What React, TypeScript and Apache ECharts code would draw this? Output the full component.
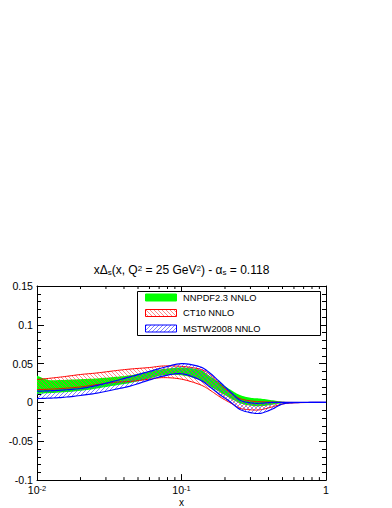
import React, { useEffect, useRef } from 'react';
import * as echarts from 'echarts';

// x grid (log scale)
const xGrid = [0.01, 0.012, 0.015, 0.02, 0.026, 0.035, 0.044, 0.06, 0.075, 0.1, 0.134, 0.157, 0.185, 0.22, 0.254, 0.3, 0.35, 0.42, 0.5, 0.6, 0.8, 1.0];

// NNPDF2.3 NNLO band
const nnpdfHi = [0.0347, 0.029, 0.029, 0.030, 0.031, 0.033, 0.035, 0.040, 0.043, 0.045, 0.042, 0.034, 0.025, 0.016, 0.0095, 0.006, 0.005, 0.003, 0.001, 0.0002, 0, 0];
const nnpdfLo = [0.011, 0.012, 0.013, 0.015, 0.018, 0.022, 0.025, 0.031, 0.035, 0.035, 0.029, 0.021, 0.013, 0.005, -0.001, -0.004, -0.005, -0.003, -0.001, -0.0002, 0, 0];

// CT10 NNLO band
const ct10Hi = [0.0296, 0.031, 0.033, 0.036, 0.038, 0.041, 0.043, 0.045, 0.047, 0.0465, 0.043, 0.036, 0.023, 0.012, 0.005, 0.002, 0.001, 0.0005, 0.0002, 0, 0, 0];
const ct10Lo = [0.0165, 0.017, 0.018, 0.020, 0.023, 0.026, 0.027, 0.030, 0.032, 0.030, 0.023, 0.016, 0.007, -0.001, -0.0075, -0.0095, -0.0095, -0.006, -0.002, -0.0005, 0, 0];

// MSTW2008 NNLO band
const mstwHi = [0.0145, 0.015, 0.016, 0.018, 0.022, 0.028, 0.033, 0.040, 0.045, 0.050, 0.046, 0.038, 0.026, 0.013, 0.003, -0.0005, -0.001, 0, 0, 0, 0, 0];
const mstwLo = [0.005, 0.0055, 0.0065, 0.009, 0.012, 0.017, 0.021, 0.029, 0.034, 0.037, 0.029, 0.020, 0.010, 0.000, -0.009, -0.013, -0.014, -0.009, -0.002, -0.0003, 0, 0];

const legendNames = ['NNPDF2.3 NNLO', 'CT10 NNLO', 'MSTW2008 NNLO'];
const xMinorTicks = [0.02, 0.03, 0.04, 0.05, 0.06, 0.07, 0.08, 0.09, 0.2, 0.3, 0.4, 0.5, 0.6, 0.7, 0.8, 0.9];
const xTickLabels: Record<string, string> = { '-2': '10{sup|-2}', '-1': '10{sup|-1}', '0': '1' };
const yTickLabels: Record<string, string> = { '-0.1': '-0.1', '-0.05': '-0.05', '0': '0', '0.05': '0.05', '0.1': '0.1', '0.15': '0.15' };

const Y_MIN = -0.1;
const Y_MAX = 0.15;
const FONT = 'Liberation Sans, Arial, Helvetica, sans-serif';

function hatch(color: string, dir: 'back' | 'fwd') {
  const s = 4;
  const c = document.createElement('canvas');
  c.width = s;
  c.height = s;
  const ctx = c.getContext('2d')!;
  ctx.fillStyle = color;
  for (let i = 0; i < s; i++) ctx.fillRect(i, dir === 'back' ? i : s - 1 - i, 1, 1);
  return c;
}

// Catmull-Rom sampling of pixel points (rendering only)
function smoothPts(p: number[][], steps = 8) {
  const out: number[][] = [];
  for (let i = 0; i < p.length - 1; i++) {
    const p0 = p[Math.max(0, i - 1)], p1 = p[i], p2 = p[i + 1], p3 = p[Math.min(p.length - 1, i + 2)];
    for (let s = 0; s < steps; s++) {
      const t = s / steps, t2 = t * t, t3 = t2 * t;
      const f = (a: number, b: number, c: number, d: number) =>
        0.5 * (2 * b + (-a + c) * t + (2 * a - 5 * b + 4 * c - d) * t2 + (-a + 3 * b - 3 * c + d) * t3);
      out.push([f(p0[0], p1[0], p2[0], p3[0]), f(p0[1], p1[1], p2[1], p3[1])]);
    }
  }
  out.push(p[p.length - 1]);
  return out;
}

export default function App() {
  const ref = useRef<HTMLDivElement>(null);
  useEffect(() => {
    document.body.style.margin = '0';
    const chart = echarts.init(ref.current!, undefined, { renderer: 'svg' });
    const redPat = { image: hatch('rgba(255,60,60,0.6)', 'back'), repeat: 'repeat' };
    const bluePat = { image: hatch('rgba(60,60,255,0.65)', 'fwd'), repeat: 'repeat' };

    const band = (name: string, lo: number[], hi: number[], fill: any, edge: string | null, lw: number, z: number) => ({
      name,
      type: 'custom',
      silent: true,
      clip: true,
      z,
      data: xGrid.map((x, i) => [x, lo[i], hi[i]]),
      encode: { x: 0, y: [1, 2] },
      renderItem: (params: any, api: any) => {
        if (params.dataIndex !== 0) return null;
        const up = smoothPts(xGrid.map((x, i) => api.coord([x, hi[i]])));
        const dn = smoothPts(xGrid.map((x, i) => api.coord([x, lo[i]])));
        const children: any[] = [
          { type: 'polygon', shape: { points: up.concat(dn.slice().reverse()) }, style: { fill, stroke: 'none' } },
        ];
        if (edge) {
          children.push({ type: 'polyline', shape: { points: up }, style: { stroke: edge, lineWidth: lw, fill: 'none' } });
          children.push({ type: 'polyline', shape: { points: dn }, style: { stroke: edge, lineWidth: lw, fill: 'none' } });
        }
        return { type: 'group', children };
      },
    });

    const tickSeries = {
      type: 'custom',
      silent: true,
      data: xMinorTicks.map((v) => [v, 0]),
      encode: { x: 0, y: 1 },
      z: 5,
      renderItem: (params: any, api: any) => {
        const x = api.value(0);
        const b = api.coord([x, Y_MIN]);
        const t = api.coord([x, Y_MAX]);
        return {
          type: 'group',
          children: [
            { type: 'line', shape: { x1: b[0], y1: b[1], x2: b[0], y2: b[1] - 3 }, style: { stroke: '#000', lineWidth: 1 } },
            { type: 'line', shape: { x1: t[0], y1: t[1], x2: t[0], y2: t[1] + 3 }, style: { stroke: '#000', lineWidth: 1 } },
          ],
        };
      },
    };

    const supRich = {
      sup: { fontSize: 7.5, fontFamily: FONT, color: '#000', verticalAlign: 'top', lineHeight: 8, padding: [0, 0, 4, 0] },
    };

    const yAxisBase = {
      type: 'value',
      min: Y_MIN,
      max: Y_MAX,
      interval: 0.05,
      axisLine: { show: true, lineStyle: { color: '#000', width: 1 } },
      axisTick: { show: true, inside: true, length: 7, lineStyle: { color: '#000' } },
      minorTick: { show: true, splitNumber: 5, length: 4, lineStyle: { color: '#000' } },
      splitLine: { show: false },
      minorSplitLine: { show: false },
    };
    const xAxisBase = {
      type: 'log',
      logBase: 10,
      min: 0.01,
      max: 1,
      axisLine: { show: true, onZero: false, lineStyle: { color: '#000', width: 1 } },
      axisTick: { show: true, inside: true, length: 6, lineStyle: { color: '#000' } },
      splitLine: { show: false },
    };

    const legendX = 137, legendY = 291, rowH = 15.5;
    const legendFills: any[] = ['#00ff00', redPat, bluePat];
    const legendStroke = ['#00ff00', '#ff0000', '#0000ff'];
    const legendChildren: any[] = [
      { type: 'rect', z: 20, shape: { x: legendX + 0.5, y: legendY + 0.5, width: 183, height: 44 }, style: { fill: '#fff', stroke: '#000', lineWidth: 1 } },
    ];
    legendNames.forEach((n, i) => {
      const cy = legendY + 6.5 + i * rowH;
      legendChildren.push({
        type: 'rect',
        z: 21,
        shape: { x: legendX + 8.5, y: cy - 3.5, width: 31, height: 7 },
        style: { fill: legendFills[i], stroke: legendStroke[i], lineWidth: 1 },
      });
      legendChildren.push({
        type: 'text',
        z: 21,
        x: legendX + 46,
        y: cy,
        style: { text: n, font: `9.3px ${FONT}`, fill: '#000', verticalAlign: 'middle', align: 'left' },
      });
    });

    chart.setOption({
      animation: false,
      backgroundColor: '#fff',
      grid: { left: 37, right: 66, top: 286, bottom: 25, containLabel: false },
      xAxis: [
        {
          ...xAxisBase,
          position: 'bottom',
          name: 'x',
          nameLocation: 'middle',
          nameGap: 5,
          nameTextStyle: { fontFamily: FONT, fontSize: 10, color: '#000' },
          axisLabel: {
            show: true,
            margin: 4,
            fontFamily: FONT,
            fontSize: 10.6,
            color: '#000',
            formatter: (v: number) => xTickLabels[String(Math.round(Math.log10(v)))] ?? '',
            rich: supRich,
          },
        },
        { ...xAxisBase, position: 'top', axisLabel: { show: false } },
      ],
      yAxis: [
        {
          ...yAxisBase,
          position: 'left',
          axisLabel: {
            show: true,
            margin: 4,
            fontFamily: FONT,
            fontSize: 10.6,
            color: '#000',
            formatter: (v: number) => yTickLabels[String(+v.toFixed(2))] ?? String(+v.toFixed(2)),
          },
        },
        { ...yAxisBase, position: 'right', axisLabel: { show: false } },
      ],
      series: [
        band('NNPDF2.3 NNLO', nnpdfLo, nnpdfHi, '#00ff00', null, 1, 2),
        band('CT10 NNLO', ct10Lo, ct10Hi, redPat, '#ff0000', 1, 3),
        band('MSTW2008 NNLO', mstwLo, mstwHi, bluePat, '#0000ff', 1.2, 4),
        tickSeries,
      ],
      graphic: [
        {
          type: 'text',
          x: 181.5,
          y: 270,
          style: {
            text: 'x{n|Δ}{sub|s}(x, Q{sup|2} = 25 GeV{sup|2}) - {n|α}{sub|s} = 0.118',
            font: `12px ${FONT}`,
            fill: '#000',
            align: 'center',
            verticalAlign: 'middle',
            rich: {
              n: { fontSize: 12, fontFamily: FONT },
              sup: { fontSize: 8, fontFamily: FONT, verticalAlign: 'top', lineHeight: 8, padding: [0, 0, 5, 0] },
              sub: { fontSize: 8, fontFamily: FONT, verticalAlign: 'bottom', lineHeight: 8, padding: [4, 0, 0, 0] },
            },
          },
          z: 10,
        },
        { type: 'group', children: legendChildren, z: 20 },
      ],
    });
    return () => chart.dispose();
  }, []);
  return <div ref={ref} style={{ width: 392, height: 508 }} />;
}
